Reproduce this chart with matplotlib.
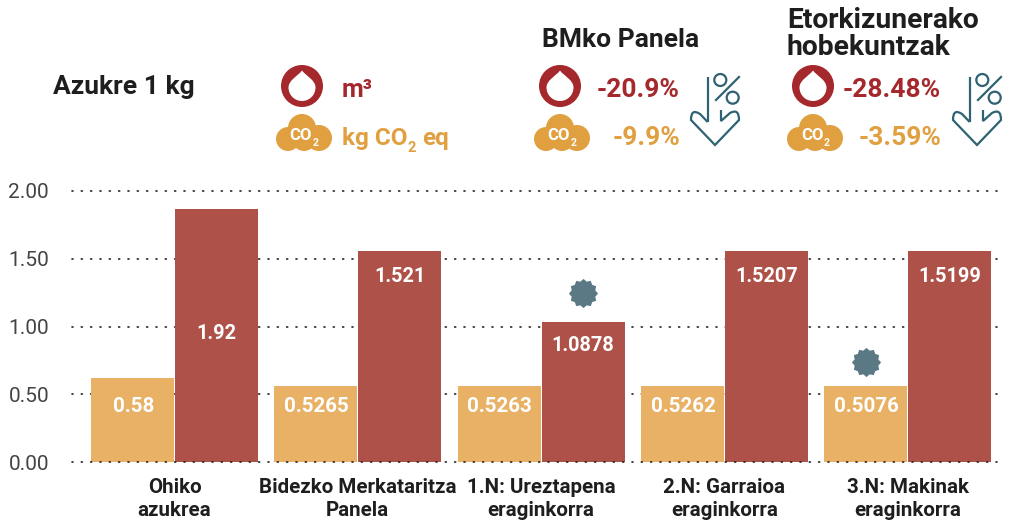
import matplotlib
matplotlib.use('Agg')
import matplotlib.pyplot as plt
from matplotlib.patches import Circle, PathPatch
from matplotlib.path import Path

plt.rcParams['font.family'] = ['Roboto', 'DejaVu Sans']

# categories and values
categorias = ["Ohiko\nazukrea", "Bidezko Merkataritza\nPanela", "1.N: Ureztapena\neraginkorra",
              "2.N: Garraioa\neraginkorra", "3.N: Makinak\neraginkorra"]
altura_naranja = [0.62, 0.56, 0.56, 0.56, 0.56]
altura_roja = [1.867, 1.557, 1.033, 1.557, 1.557]
etiquetas_naranja = ["0.58", "0.5265", "0.5263", "0.5262", "0.5076"]
etiquetas_rojas = ["1.92", "1.521", "1.0878", "1.5207", "1.5199"]
ticks_y = [0.0, 0.5, 1.0, 1.5, 2.0]

NARANJA = "#E8B165"
ROJO = "#AE5249"
ROJO_OSCURO = "#A4282C"
AMARILLO = "#E0A040"
AZUL = "#2F6272"
GRIS_AZUL = "#5B7985"
NEGRO = "#1E1E1E"

fig = plt.figure(figsize=(10.09, 5.26), dpi=100)

# chart axes: y=0 at pixel 462, y=2 at pixel 191
ax = fig.add_axes([72 / 1009, (526 - 462) / 526, (1003 - 72) / 1009, (462 - 191) / 526])
ax.set_xlim((72 - 174.5) / 183.3, (1003 - 174.5) / 183.3)
ax.set_ylim(0, 2)
ancho = 83 / 183.3
x = list(range(len(categorias)))

ax.bar([i - 0.229 for i in x], altura_naranja, width=ancho, color=NARANJA, zorder=2)
ax.bar([i + 0.229 for i in x], altura_roja, width=ancho, color=ROJO, zorder=2)

# dotted grid, the zero line stays on top of the bars
for t in ticks_y:
    ax.plot(ax.get_xlim(), [t, t], color="#222222", lw=1.2, dashes=(0.6, 5.0), dash_capstyle="round",
            zorder=3 if t == 0 else 1, clip_on=False)

ax.set_xticks(x)
ax.set_xticklabels(categorias, fontsize=14.8, fontweight="bold", color=NEGRO, linespacing=1.3)
ax.set_yticks(ticks_y)
ax.set_yticklabels(["%.2f" % t for t in ticks_y], fontsize=15, color="#444444")
ax.tick_params(length=0)
ax.tick_params(axis="y", pad=16.5)
ax.tick_params(axis="x", pad=11.5)
for s in ax.spines.values():
    s.set_visible(False)

# labels inside the bars
y_rojas = [0.95, 1.37, 0.86, 1.37, 1.37]
for i in x:
    ax.text(i - 0.225, 0.41, etiquetas_naranja[i], color="white", fontsize=14.8, fontweight="bold",
            ha="center", va="center", zorder=4)
    ax.text(i + 0.229, y_rojas[i], etiquetas_rojas[i], color="white", fontsize=14.3, fontweight="bold",
            ha="center", va="center", zorder=4)

# badges above two of the bars
insignia = Path.unit_regular_star(12, innerCircle=0.84)
ax.plot([2.229], [1.25], marker=insignia, ms=21, color=GRIS_AZUL, mew=0, ls="none", clip_on=False, zorder=4)
ax.plot([4 - 0.229], [0.74], marker=insignia, ms=21, color=GRIS_AZUL, mew=0, ls="none", clip_on=False, zorder=4)

# overlay in pixel coordinates for the header
cab = fig.add_axes([0, 0, 1, 1])
cab.set_xlim(0, 1009)
cab.set_ylim(526, 0)
cab.axis("off")
cab.patch.set_alpha(0)


def gota(cx, cy):
    cab.add_patch(Circle((cx, cy), 21, color=ROJO_OSCURO, lw=0))
    v = [(cx, cy - 15.5), (cx + 4, cy - 10), (cx + 13.5, cy - 6), (cx + 13.5, cy + 1.5),
         (cx + 13.5, cy + 9), (cx + 7.5, cy + 15), (cx, cy + 15),
         (cx - 7.5, cy + 15), (cx - 13.5, cy + 9), (cx - 13.5, cy + 1.5),
         (cx - 13.5, cy - 6), (cx - 4, cy - 10), (cx, cy - 15.5)]
    c = [Path.MOVETO] + [Path.CURVE4] * 12
    cab.add_patch(PathPatch(Path(v, c), color="white", lw=0))


def nube(cx, cy):
    # cx, cy is the middle of the cloud
    for dx, dy, r in [(-2, -5, 14), (-16, 6, 12), (15, 5, 13), (0, 6, 12)]:
        cab.add_patch(Circle((cx + dx, cy + dy), r, color=AMARILLO, lw=0))
    cab.text(cx - 3, cy + 2, "CO", color="white", fontsize=12, fontweight="bold", ha="center", va="center")
    cab.text(cx + 12, cy + 10, "2", color="white", fontsize=7.5, fontweight="bold", ha="center", va="center")


def flecha(ox, oy):
    # ox, oy is the tip of the arrow
    cab.plot([ox - 7.3, ox - 7.3], [oy - 68, oy - 23], color=AZUL, lw=1.6, solid_capstyle="butt")
    v = [(ox - 7.3, oy - 23), (ox - 15, oy - 31), (ox - 24, oy - 37), (ox - 24, oy - 25), (ox, oy),
         (ox + 24, oy - 25), (ox + 24, oy - 37), (ox + 15, oy - 32), (ox + 6, oy - 24), (ox + 6, oy - 35)]
    c = [Path.MOVETO, Path.LINETO, Path.CURVE3, Path.CURVE3, Path.LINETO,
         Path.LINETO, Path.CURVE3, Path.CURVE3, Path.LINETO, Path.LINETO]
    cab.add_patch(PathPatch(Path(v, c), fill=False, ec=AZUL, lw=1.6, joinstyle="miter"))
    cab.plot([ox + 24, ox + 1], [oy - 68, oy - 45], color=AZUL, lw=1.6)
    cab.add_patch(Circle((ox + 5.3, oy - 65), 6, fill=False, ec=AZUL, lw=1.6))
    cab.add_patch(Circle((ox + 17.7, oy - 47.3), 6, fill=False, ec=AZUL, lw=1.6))


def texto(px, py, s, color, size, **kw):
    cab.text(px, py, s, color=color, fontsize=size, fontweight="bold", va="baseline", **kw)


texto(53, 94, "Azukre 1 kg", NEGRO, 19)
texto(542, 47, "BMko Panela", NEGRO, 19)
texto(787, 28, "Etorkizunerako", NEGRO, 20.3)
texto(787, 55, "hobekuntzak", NEGRO, 20.3)

gota(302, 86)
nube(304, 133)
texto(342, 97, "m³", ROJO_OSCURO, 18)
texto(342, 145, "kg CO", AMARILLO, 17.5)
texto(407, 152, "2", AMARILLO, 10.5)
texto(422, 145, "eq", AMARILLO, 17.5)

gota(560, 86)
nube(562, 133)
texto(680, 97, "-20.9%", ROJO_OSCURO, 19, ha="right")
texto(680, 145, "-9.9%", AMARILLO, 19, ha="right")
flecha(715, 145)

gota(813, 86)
nube(815, 133)
texto(941, 97, "-28.48%", ROJO_OSCURO, 19, ha="right")
texto(941, 145, "-3.59%", AMARILLO, 19, ha="right")
flecha(977, 145)

fig.savefig("out.png", dpi=100)
plt.close(fig)
